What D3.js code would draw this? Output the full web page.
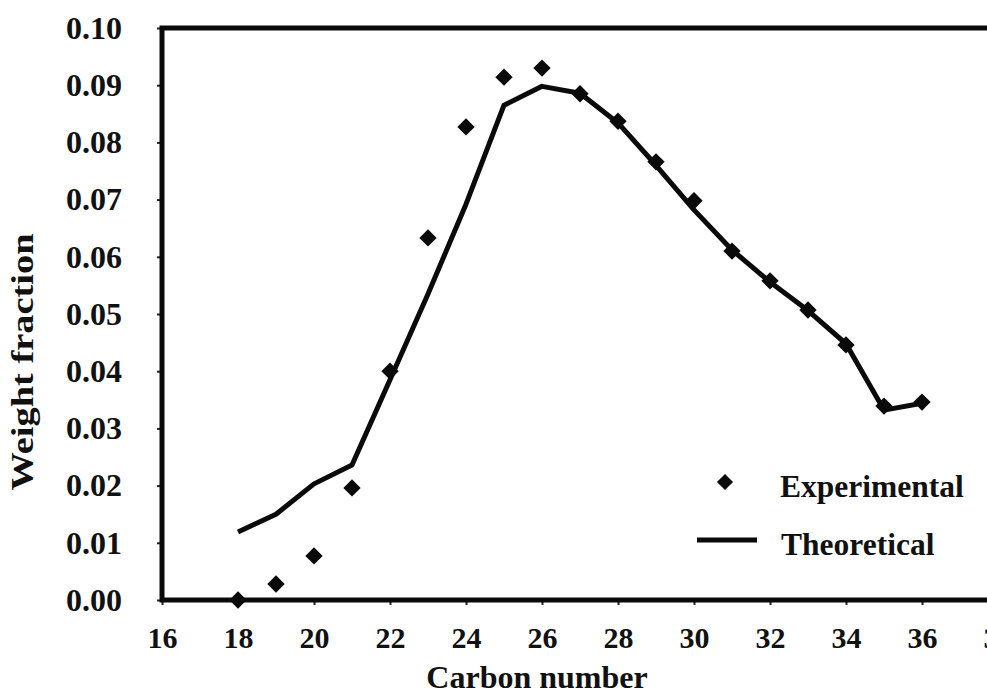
<!DOCTYPE html>
<html>
<head>
<meta charset="utf-8">
<script src="https://cdn.jsdelivr.net/npm/d3@7"></script>
<style>
  body { margin: 0; background: #fff; }
</style>
</head>
<body>
<div id="chart"></div>
<script>
// data
const carbon = [18, 19, 20, 21, 22, 23, 24, 25, 26, 27, 28, 29, 30, 31, 32, 33, 34, 35, 36];
const experimental = [0.0000, 0.0028, 0.0077, 0.0196, 0.0400, 0.0633, 0.0827, 0.0914, 0.0930, 0.0885,
  0.0837, 0.0766, 0.0698, 0.0610, 0.0558, 0.0507, 0.0446, 0.0339, 0.0346];
const theoretical = [0.0119, 0.0150, 0.0203, 0.0236, 0.0385, 0.0535, 0.0692, 0.0865, 0.0898, 0.0886,
  0.0834, 0.0760, 0.0682, 0.0612, 0.0556, 0.0506, 0.0448, 0.0332, 0.0344];
const xTicks = [16, 18, 20, 22, 24, 26, 28, 30, 32, 34, 36, 38];
const yTicks = [0, 0.01, 0.02, 0.03, 0.04, 0.05, 0.06, 0.07, 0.08, 0.09, 0.10];

(function weightChart(){
  let width = 987,
  height = 694,
  margin = ({ top: 28, right: -11, bottom: 94, left: 162 });
  const font = "'Liberation Serif'";

  const svg = d3.select("#chart")
    .append("svg")
    .attr("width", width)
    .attr("height", height)
    .attr("viewBox", [0, 0, width, height]);

  let x = d3.scaleLinear()
    .domain([16, 38])
    .range([margin.left, width - margin.right]);

  let y = d3.scaleLinear()
    .domain([0, 0.1])
    .range([height - margin.bottom, margin.top]);

  const rows = carbon.map((c, i) => ({ c: c, exp: experimental[i], th: theoretical[i] }));

  // axes
  svg.append("g")
    .attr("transform", `translate(0,${y(0)})`)
    .call(d3.axisBottom(x).tickValues(xTicks).tickFormat(d3.format("d")).tickSize(5).tickPadding(22))
    .call(g => g.select(".domain").remove())
    .call(g => g.selectAll(".tick line").attr("stroke", "#222").attr("stroke-width", 2))
    .call(g => g.selectAll(".tick text").attr("font-size", 30).attr("font-weight", "bold")
      .style("font-family", font).attr("fill", "#111"));

  svg.append("g")
    .attr("transform", `translate(${x(16)},0)`)
    .call(d3.axisLeft(y).tickValues(yTicks).tickFormat(d3.format(".2f")).tickSize(5).tickPadding(35))
    .call(g => g.select(".domain").remove())
    .call(g => g.selectAll(".tick line").attr("stroke", "#222").attr("stroke-width", 2))
    .call(g => g.selectAll(".tick text").attr("font-size", 32).attr("font-weight", "bold")
      .style("font-family", font).attr("fill", "#111"));

  // plot frame
  svg.append("rect")
    .attr("x", x(16))
    .attr("y", y(0.1))
    .attr("width", x(38) - x(16))
    .attr("height", y(0) - y(0.1))
    .attr("fill", "none")
    .attr("stroke", "#0a0a0a")
    .attr("stroke-width", 5);

  // theoretical line
  const line = d3.line()
    .x(d => x(d.c))
    .y(d => y(d.th));

  svg.append("path")
    .datum(rows)
    .attr("d", line)
    .attr("fill", "none")
    .attr("stroke", "#0a0a0a")
    .attr("stroke-width", 5)
    .attr("stroke-linejoin", "round");

  // experimental diamonds
  const diamond = d3.symbol().type(d3.symbolSquare).size(150);
  svg.selectAll(".exp")
    .data(rows)
    .join("path")
    .attr("class", "exp")
    .attr("d", diamond)
    .attr("transform", d => `translate(${x(d.c)},${y(d.exp)}) rotate(45)`)
    .attr("fill", "#0a0a0a");

  // axis titles
  svg.append("text")
    .attr("x", 537)
    .attr("y", 688)
    .attr("text-anchor", "middle")
    .attr("font-size", 32)
    .attr("font-weight", "bold")
    .style("font-family", font)
    .attr("fill", "#111")
    .text("Carbon number");

  svg.append("text")
    .attr("transform", `translate(33,362) rotate(-90)`)
    .attr("text-anchor", "middle")
    .attr("font-size", 32)
    .attr("font-weight", "bold")
    .attr("textLength", 257)
    .attr("lengthAdjust", "spacingAndGlyphs")
    .style("font-family", font)
    .attr("fill", "#111")
    .text("Weight fraction");

  // legend
  svg.append("path")
    .attr("d", d3.symbol().type(d3.symbolSquare).size(130))
    .attr("transform", "translate(725,482) rotate(45)")
    .attr("fill", "#0a0a0a");
  svg.append("line")
    .attr("x1", 697).attr("x2", 757)
    .attr("y1", 540).attr("y2", 540)
    .attr("stroke", "#0a0a0a").attr("stroke-width", 5);
  svg.append("text").attr("x", 780).attr("y", 497).attr("font-size", 31.5).attr("font-weight", "bold")
    .style("font-family", font).attr("fill", "#111").text("Experimental");
  svg.append("text").attr("x", 781).attr("y", 555).attr("font-size", 31.5).attr("font-weight", "bold")
    .style("font-family", font).attr("fill", "#111").text("Theoretical");
})();
</script>
</body>
</html>
